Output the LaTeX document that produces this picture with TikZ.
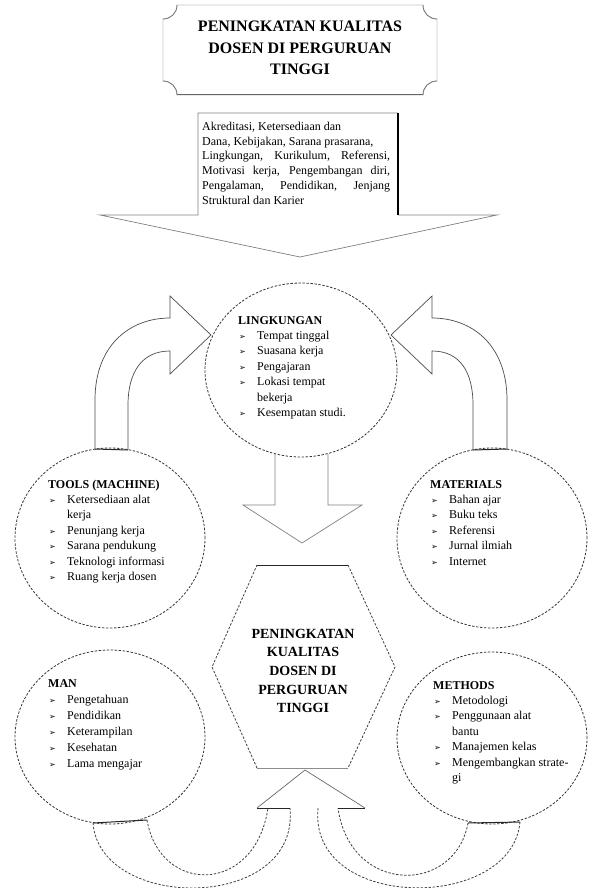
\documentclass[tikz,border=0pt]{standalone}
\usepackage{fontspec}
\setmainfont{Liberation Serif}
\newfontfamily\symfont{DejaVu Sans}
\usetikzlibrary{shapes.geometric}
\newcommand{\bl}{\makebox[19pt][l]{\hspace{1pt}{\symfont\fontsize{8}{8}\selectfont ➢}}}
\newcommand{\jl}[1]{\makebox[188pt][s]{#1}}
\tikzset{
  circ/.style={ellipse, draw=black!80, line width=0.8pt, dash pattern=on 2.4pt off 1.6pt, inner sep=0},
  dsh/.style={draw=black!75, line width=0.8pt, dash pattern=on 2.4pt off 1.6pt},
  blk/.style={draw=black!50, line width=0.7pt},
  solidseg/.style={draw=black!85, line width=1pt},
  lst/.style={anchor=base west, inner sep=0, font=\fontsize{12}{15.4}\selectfont, align=left},
}
\begin{document}
\begin{tikzpicture}[x=1pt,y=-1pt]
\useasboundingbox (0,0) rectangle (589,888);
\fill[white] (0,0) rectangle (589,888);

% top plaque
\draw[draw=black!22, line width=0.7pt] (177,5) -- (423,5) .. controls (423,13) and (429,19) .. (437,19) -- (437,81)
  .. controls (429,81) and (423,87) .. (423,95) -- (177,95) .. controls (177,87) and (171,81) .. (163,81)
  -- (163,19) .. controls (171,19) and (177,13) .. (177,5) -- cycle;
\draw[draw=black!55, line width=0.8pt] (423,5) .. controls (423,13) and (429,19) .. (437,19);
\draw[draw=black!55, line width=0.8pt] (177,5) .. controls (177,13) and (171,19) .. (163,19);
\draw[draw=black!55, line width=0.8pt] (437,81) .. controls (429,81) and (423,87) .. (423,95);
\draw[draw=black!55, line width=0.8pt] (177,95) .. controls (177,87) and (171,81) .. (163,81);
\draw[draw=black!60, line width=1pt] (177,95) -- (423,95);
\node[inner sep=0, align=center, font=\bfseries\fontsize{16}{21.5}\selectfont] (goal) at (300,48)
  {PENINGKATAN KUALITAS\\DOSEN DI PERGURUAN\\TINGGI};

% top block arrow
\coordinate (sa) at (198,113); \coordinate (sb) at (398,113);
\coordinate (sc) at (398,215); \coordinate (sd) at (198,215);
\coordinate (ha) at (100,215); \coordinate (hb) at (497,215); \coordinate (ht) at (300,257);
\draw[blk] (sc) -- (hb) -- (ht) -- (ha) -- (sd) -- (sa) -- (sb);
\draw[draw=black, line width=1.4pt] (sb) -- (sc);
\node[anchor=north west, inner sep=0, align=left, font=\fontsize{12}{14.7}\selectfont] (factors) at (202,122)
  {Akreditasi, Ketersediaan dan\\
   Dana, Kebijakan, Sarana prasarana,\\
   \jl{Lingkungan, Kurikulum, Referensi,}\\
   \jl{Motivasi kerja, Pengembangan diri,}\\
   \jl{Pengalaman, Pendidikan, Jenjang}\\
   Struktural dan Karier};

% circles
\node[circ, minimum width=192pt, minimum height=174pt] (env) at (301,370) {};
\node[circ, minimum width=190pt, minimum height=180pt] (tools) at (110,538) {};
\node[circ, minimum width=190pt, minimum height=180pt] (mat) at (492,538) {};
\node[circ, minimum width=190pt, minimum height=174pt] (man) at (110,737) {};
\node[circ, minimum width=190pt, minimum height=172pt] (meth) at (492,738) {};

% hexagon
\coordinate (h1) at (257,565); \coordinate (h2) at (348,565); \coordinate (h3) at (395,667);
\coordinate (h4) at (348,768); \coordinate (h5) at (257,768); \coordinate (h6) at (212,667);
\draw[dsh] (h2) -- (h3) -- (h4);
\draw[dsh] (h5) -- (h6) -- (h1);
\draw[draw=black!85, line width=1pt] (h1) -- (h2);
\draw[draw=black!45, line width=0.8pt] (h4) -- (h5);
\node[inner sep=0, align=center, font=\bfseries\fontsize{14}{18.7}\selectfont] (result) at (303,671)
  {PENINGKATAN\\KUALITAS\\DOSEN DI\\PERGURUAN\\TINGGI};

% down arrow env -> hexagon
\draw[blk] (275,454) -- (275,505) -- (243,505) -- (302,543) -- (362,505) -- (328,505) -- (328,454);

% left curved arrow tools -> env
\draw[solidseg] (95,449) -- (128,450);
\draw[blk, draw=black!70] (95,449) -- (95,400) .. controls (95,345) and (130,318) .. (170,318)
  -- (170,296) -- (211,335) -- (170,374) -- (170,351)
  .. controls (142,351) and (128,372) .. (128,405) -- (128,450);
% right curved arrow materials -> env
\draw[solidseg] (473,450) -- (507,449);
\draw[blk, draw=black!70] (507,449) -- (507,400) .. controls (507,345) and (472,318) .. (432,318)
  -- (432,296) -- (391,335) -- (432,374) -- (432,351)
  .. controls (460,351) and (473,372) .. (473,405) -- (473,450);

% bottom curved arrows man/methods -> hexagon
\begin{scope}
\clip (0,0) rectangle (589,888);
\draw[solidseg] (93,823) -- (147,820);
\draw[solidseg] (468,823) -- (520,822);
\draw[dsh] (147,820) .. controls (160,895) and (255,895) .. (268,808);
\draw[dsh] (93,823) .. controls (100,912) and (300,912) .. (290,808);
\draw[dsh] (468,823) .. controls (455,895) and (350,895) .. (338,808);
\draw[dsh] (520,822) .. controls (512,912) and (308,912) .. (318,808);
\draw[blk, draw=black!60] (257,808) -- (305,770) -- (365,808);
\draw[solidseg] (257,808) -- (290,808);
\draw[solidseg] (338,808) -- (365,808);
\end{scope}

% lists
\node[lst] (envtxt) at (238,324) {\begin{tabular}[t]{@{}l@{}l@{}}
 \multicolumn{2}{@{}l@{}}{\bfseries LINGKUNGAN}\\
 \bl & Tempat tinggal\\
 \bl & Suasana kerja\\
 \bl & Pengajaran\\
 \bl & Lokasi tempat\\
     & bekerja\\
 \bl & Kesempatan studi.
\end{tabular}};

\node[lst] (toolstxt) at (48,488) {\begin{tabular}[t]{@{}l@{}l@{}}
 \multicolumn{2}{@{}l@{}}{\bfseries TOOLS (MACHINE)}\\
 \bl & Ketersediaan alat\\
     & kerja\\
 \bl & Penunjang kerja\\
 \bl & Sarana pendukung\\
 \bl & Teknologi informasi\\
 \bl & Ruang kerja dosen
\end{tabular}};

\node[lst] (mattxt) at (430,488) {\begin{tabular}[t]{@{}l@{}l@{}}
 \multicolumn{2}{@{}l@{}}{\bfseries MATERIALS}\\
 \bl & Bahan ajar\\
 \bl & Buku teks\\
 \bl & Referensi\\
 \bl & Jurnal ilmiah\\
 \bl & Internet
\end{tabular}};

\node[lst, font=\fontsize{12}{16}\selectfont] (mantxt) at (48,687) {\begin{tabular}[t]{@{}l@{}l@{}}
 \multicolumn{2}{@{}l@{}}{\bfseries MAN}\\
 \bl & Pengetahuan\\
 \bl & Pendidikan\\
 \bl & Keterampilan\\
 \bl & Kesehatan\\
 \bl & Lama mengajar
\end{tabular}};

\node[lst] (methtxt) at (433,689) {\begin{tabular}[t]{@{}l@{}l@{}}
 \multicolumn{2}{@{}l@{}}{\bfseries METHODS}\\
 \bl & Metodologi\\
 \bl & Penggunaan alat\\
     & bantu\\
 \bl & Manajemen kelas\\
 \bl & Mengembangkan strate-\\
     & gi
\end{tabular}};
\end{tikzpicture}
\end{document}
